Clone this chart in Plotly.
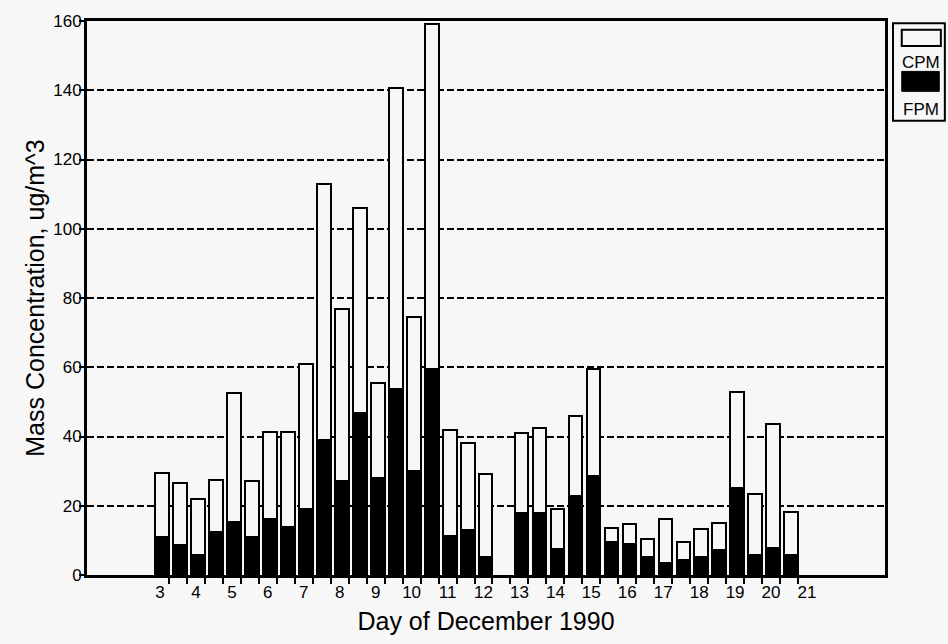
"""Stacked CPM / FPM mass concentrations, twice-daily samples, December 1990."""

import plotly.graph_objects as go

# sampling time in days (x.0 = first sample of day x, x.5 = second sample)
sample_time = [
    3.0, 3.5, 4.0, 4.5, 5.0, 5.5, 6.0, 6.5, 7.0, 7.5,
    8.0, 8.5, 9.0, 9.5, 10.0, 10.5, 11.0, 11.5, 12.0,
    13.0, 13.5, 14.0, 14.5, 15.0, 15.5, 16.0, 16.5, 17.0, 17.5,
    18.0, 18.5, 19.0, 19.5, 20.0, 20.5,
]
fpm = [
    11.0, 8.7, 5.8, 12.3, 15.3, 11.0, 16.1, 13.9, 19.1, 39.1,
    27.2, 46.8, 28.0, 53.6, 30.1, 59.6, 11.3, 12.9, 5.3,
    18.0, 17.9, 7.5, 22.9, 28.5, 9.6, 8.9, 5.3, 3.6, 4.4,
    5.3, 7.2, 25.0, 5.8, 7.9, 5.8,
]
cpm = [
    18.6, 17.9, 16.2, 15.0, 37.4, 16.2, 25.2, 27.4, 41.9, 73.9,
    49.6, 59.2, 27.5, 87.0, 44.3, 99.4, 30.5, 25.1, 23.8,
    23.0, 24.6, 11.6, 22.9, 31.1, 4.0, 5.7, 5.0, 12.5, 5.2,
    7.9, 7.9, 27.9, 17.6, 35.8, 12.4,
]
day_labels = list(range(3, 22))

BG = "#f7f7f7"
FONT = "Liberation Sans, Arial, sans-serif"

fig = go.Figure()
fig.add_trace(
    go.Bar(
        x=sample_time, y=fpm, name="FPM",
        width=0.38, offset=-0.13,
        marker={"color": "black", "line": {"color": "black", "width": 2}},
    )
)
fig.add_trace(
    go.Bar(
        x=sample_time, y=cpm, name="CPM",
        width=0.38, offset=-0.13,
        marker={"color": BG, "line": {"color": "black", "width": 2}},
    )
)

# boundaries between sampling periods get the small tick marks
minor_ticks = [d + 0.25 for d in range(3, 21)] + [d + 0.75 for d in range(3, 21)]

fig.update_layout(
    width=948, height=644,
    barmode="stack",
    showlegend=False,
    paper_bgcolor=BG, plot_bgcolor=BG,
    font={"family": FONT, "color": "black", "size": 17},
    margin={"l": 87, "r": 63, "t": 17, "b": 67},
    xaxis={
        "range": [0.97, 23.17],
        "tickmode": "array",
        "tickvals": day_labels,
        "ticktext": [str(d) for d in day_labels],
        "ticks": "",
        "showgrid": False,
        "zeroline": False,
        "showline": True, "linecolor": "black", "linewidth": 3, "mirror": True,
        "minor": {
            "tickmode": "array", "tickvals": minor_ticks,
            "ticks": "outside", "ticklen": 6, "tickwidth": 2, "tickcolor": "black",
            "showgrid": False,
        },
        "title": {"text": "Day of December 1990", "font": {"size": 25}, "standoff": 12},
        "tickfont": {"size": 17},
    },
    yaxis={
        "range": [0, 160],
        "dtick": 20,
        "ticks": "outside", "ticklen": 5, "tickwidth": 2, "tickcolor": "black",
        "ticklabelstandoff": -6,
        "showgrid": True, "gridcolor": "black", "gridwidth": 2, "griddash": "7px,3px",
        "zeroline": False,
        "showline": True, "linecolor": "black", "linewidth": 3, "mirror": True,
        "title": {"text": "Mass Concentration, ug/m^3", "font": {"size": 25}, "standoff": 2},
        "tickfont": {"size": 17},
    },
)

# legend drawn as a boxed stack: swatch above its label
fig.add_shape(type="rect", xref="paper", yref="paper", x0=1.010, x1=1.075, y0=0.820, y1=0.996,
              line={"color": "black", "width": 2}, fillcolor=BG)
fig.add_shape(type="rect", xref="paper", yref="paper", x0=1.021, x1=1.070, y0=0.955, y1=0.984,
              line={"color": "black", "width": 2}, fillcolor=BG)
fig.add_shape(type="rect", xref="paper", yref="paper", x0=1.021, x1=1.068, y0=0.873, y1=0.909,
              line={"color": "black", "width": 1}, fillcolor="black")
for label, ypos in [("CPM", 0.925), ("FPM", 0.840)]:
    fig.add_annotation(text=label, xref="paper", yref="paper", x=1.045, y=ypos,
                       showarrow=False, font={"size": 17}, xanchor="center", yanchor="middle")

fig.write_html(
    "out.html",
    config={"displayModeBar": False},
    post_script="document.body.style.margin='0';document.body.style.overflow='hidden';"
    "document.body.style.background='" + BG + "';",
)
